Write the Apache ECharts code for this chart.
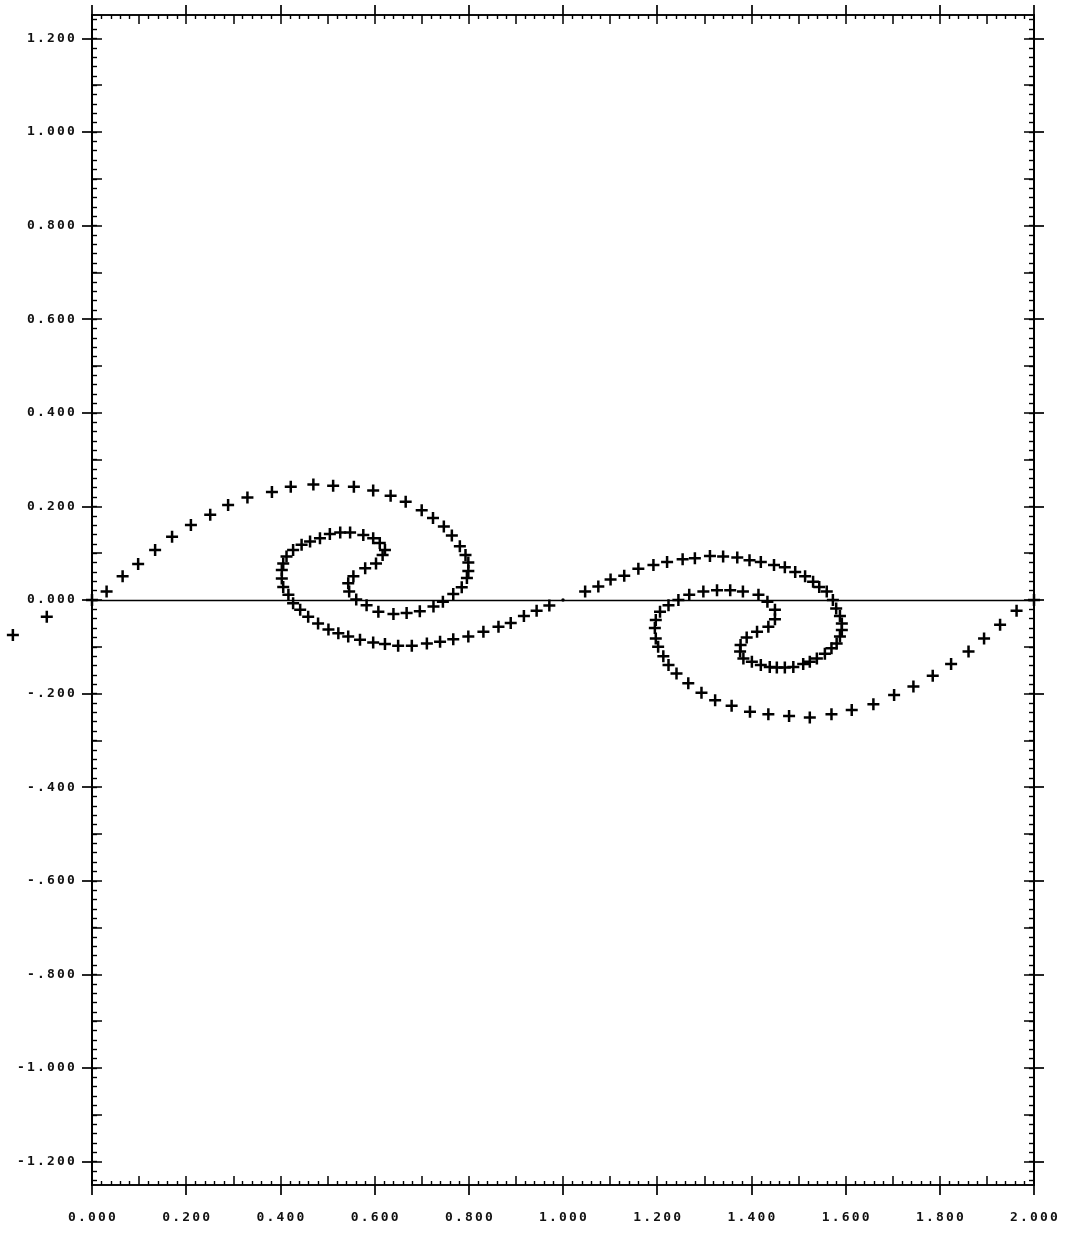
<!DOCTYPE html>
<html>
<head>
<meta charset="utf-8">
<script src="https://cdn.jsdelivr.net/npm/echarts@6/dist/echarts.min.js"></script>
<style>
  html, body { margin: 0; padding: 0; background: #ffffff; }
  #chart { width: 1067px; height: 1235px; }
</style>
</head>
<body>
<div id="chart"></div>
<script>
// Left roll-up, outer arm: from the origin over the crest, down the right wall and into the hook
const leftOuterArm = [
  [0.000, 0.000], [0.031, 0.018], [0.065, 0.051], [0.098, 0.077], [0.134, 0.107],
  [0.170, 0.135], [0.210, 0.160], [0.251, 0.182], [0.289, 0.203], [0.330, 0.219],
  [0.382, 0.231], [0.422, 0.242], [0.470, 0.247], [0.512, 0.244], [0.556, 0.242],
  [0.597, 0.234], [0.634, 0.223], [0.666, 0.210], [0.700, 0.192], [0.724, 0.175],
  [0.747, 0.157], [0.764, 0.138], [0.781, 0.115], [0.793, 0.096], [0.799, 0.080],
  [0.799, 0.062], [0.796, 0.047], [0.785, 0.027], [0.767, 0.013], [0.745, -0.004],
  [0.725, -0.014], [0.696, -0.024], [0.668, -0.028], [0.640, -0.030], [0.608, -0.025],
  [0.583, -0.011], [0.561, 0.001], [0.546, 0.018], [0.544, 0.036], [0.555, 0.051],
  [0.580, 0.068], [0.603, 0.078], [0.617, 0.096], [0.622, 0.107]
];

// Left roll-up, inner turn: across the top, down the left wall, then the lower arm to the centre
const leftInnerArm = [
  [0.611, 0.122], [0.597, 0.132], [0.576, 0.139], [0.548, 0.144], [0.527, 0.144],
  [0.505, 0.141], [0.484, 0.132], [0.463, 0.125], [0.445, 0.118], [0.427, 0.107],
  [0.413, 0.093], [0.406, 0.078], [0.403, 0.064], [0.403, 0.046], [0.406, 0.028],
  [0.417, 0.011], [0.427, -0.007], [0.442, -0.021], [0.459, -0.036], [0.480, -0.050],
  [0.502, -0.063], [0.523, -0.071], [0.544, -0.078], [0.569, -0.085], [0.597, -0.091],
  [0.622, -0.094], [0.650, -0.098], [0.679, -0.098], [0.711, -0.093], [0.739, -0.089],
  [0.767, -0.084], [0.799, -0.078], [0.831, -0.068], [0.863, -0.057], [0.889, -0.049],
  [0.917, -0.034], [0.944, -0.023], [0.971, -0.012]
];

// Right roll-up, upper arm: from the centre over the top, down the right wall and into the hook
const rightUpperArm = [
  [1.047, 0.018], [1.075, 0.029], [1.101, 0.044], [1.130, 0.052], [1.160, 0.067],
  [1.192, 0.075], [1.221, 0.081], [1.254, 0.087], [1.280, 0.089], [1.312, 0.094],
  [1.340, 0.093], [1.370, 0.091], [1.396, 0.085], [1.420, 0.081], [1.448, 0.075],
  [1.471, 0.070], [1.493, 0.060], [1.514, 0.051], [1.531, 0.039], [1.544, 0.028],
  [1.560, 0.018], [1.573, 0.000], [1.580, -0.018], [1.588, -0.034], [1.592, -0.050],
  [1.592, -0.064], [1.588, -0.078], [1.581, -0.093], [1.570, -0.103], [1.556, -0.115],
  [1.539, -0.125], [1.524, -0.132], [1.510, -0.137], [1.489, -0.143], [1.471, -0.144],
  [1.454, -0.144], [1.439, -0.143], [1.420, -0.139], [1.401, -0.132], [1.383, -0.125],
  [1.376, -0.110], [1.377, -0.096], [1.390, -0.080], [1.412, -0.068], [1.436, -0.057],
  [1.450, -0.041], [1.450, -0.021], [1.434, -0.004]
];

// Right roll-up, inner turn and the lower arm out to x = 2
const rightLowerArm = [
  [1.415, 0.011], [1.382, 0.018], [1.355, 0.021], [1.327, 0.021], [1.298, 0.018],
  [1.268, 0.011], [1.245, 0.000], [1.224, -0.011], [1.206, -0.025], [1.197, -0.043],
  [1.195, -0.060], [1.197, -0.082], [1.202, -0.100], [1.213, -0.120], [1.224, -0.139],
  [1.241, -0.157], [1.266, -0.178], [1.294, -0.198], [1.323, -0.214], [1.358, -0.226],
  [1.397, -0.239], [1.436, -0.244], [1.480, -0.248], [1.524, -0.251], [1.570, -0.244],
  [1.613, -0.235], [1.659, -0.223], [1.703, -0.203], [1.744, -0.185], [1.785, -0.162],
  [1.824, -0.137], [1.861, -0.110], [1.894, -0.082], [1.928, -0.053], [1.963, -0.023],
  [2.000, 0.000]
];

// Two points lying left of x = 0, drawn outside the frame
const outsidePoints = [[-0.168, -0.075], [-0.096, -0.036]];

// Centre of the sheet, drawn as a small dot
const centrePoint = [[1.000, 0.000]];

// Axis ranges, tick values and tick labels
const xRange = [0, 2];
const yRange = [-1.25, 1.25];
const xTickLabels = ['0.000', '0.200', '0.400', '0.600', '0.800', '1.000',
                     '1.200', '1.400', '1.600', '1.800', '2.000'];
const yTickValues = [-1.2, -1.0, -0.8, -0.6, -0.4, -0.2, 0, 0.2, 0.4, 0.6, 0.8, 1.0, 1.2];
const yTickLabels = ['-1.200', '-1.000', '-.800', '-.600', '-.400', '-.200', '0.000',
                     '0.200', '0.400', '0.600', '0.800', '1.000', '1.200'];

// Inward tick positions on the vertical axes: every 0.1 and every 0.02
function ticksEvery(step, lo, hi) {
  const out = [];
  const n0 = Math.ceil(lo / step - 1e-9), n1 = Math.floor(hi / step + 1e-9);
  for (let n = n0; n <= n1; n++) out.push(+(n * step).toFixed(4));
  return out;
}
const yMediumTicks = ticksEvery(0.1, -1.2, 1.2);
const yMinorTicks = ticksEvery(0.02, -1.24, 1.24);

// Plotter-style labels: every character sits in its own fixed-width cell
const labelFont = { fontFamily: 'DejaVu Sans Mono', fontSize: 13, fontWeight: 'bold', color: '#111' };
function cells(s) {
  return s.split('').map(ch => '{c|' + ch + '}').join('');
}
const cellRich = { c: Object.assign({ width: 10, align: 'center' }, labelFont) };

const ink = '#000';
const lineW = 1.7;
const frameLine = { show: true, onZero: false, lineStyle: { color: ink, width: lineW } };

function xAxisPair(position, withLabels) {
  return [
    {
      type: 'value', position, min: xRange[0], max: xRange[1], interval: 0.2,
      axisLine: frameLine, splitLine: { show: false },
      axisTick: { show: true, inside: false, length: 10, lineStyle: { color: ink, width: lineW } },
      axisLabel: withLabels ? {
        show: true, margin: 26,
        formatter: v => cells(xTickLabels[Math.round(v / 0.2)] || ''),
        rich: cellRich
      } : { show: false }
    },
    {
      type: 'value', position, min: xRange[0], max: xRange[1], interval: 0.1,
      axisLine: frameLine, splitLine: { show: false },
      axisTick: { show: true, inside: true, length: 9, lineStyle: { color: ink, width: 1.5 } },
      minorTick: { show: true, splitNumber: 5, length: 4, lineStyle: { color: ink, width: 1.4 } },
      axisLabel: { show: false }
    }
  ];
}

function yAxisSet(position, withLabels) {
  const base = {
    type: 'value', position, min: yRange[0], max: yRange[1],
    axisLine: frameLine, splitLine: { show: false }
  };
  return [
    Object.assign({}, base, {
      axisTick: { show: true, inside: false, length: 10, customValues: yTickValues,
                  lineStyle: { color: ink, width: lineW } },
      axisLabel: withLabels ? {
        show: true, margin: 16, customValues: yTickValues,
        formatter: v => cells(yTickLabels[Math.round((v + 1.2) / 0.2)] || ''),
        rich: cellRich
      } : { show: false }
    }),
    Object.assign({}, base, {
      axisTick: { show: true, inside: true, length: 10, customValues: yMediumTicks,
                  lineStyle: { color: ink, width: 1.5 } },
      axisLabel: { show: false }
    }),
    Object.assign({}, base, {
      axisTick: { show: true, inside: true, length: 5, customValues: yMinorTicks,
                  lineStyle: { color: ink, width: 1.4 } },
      axisLabel: { show: false }
    })
  ];
}

// Plus-shaped marker with heavy strokes
const plusMark = 'path://M4.75,0H7.25V4.75H12V7.25H7.25V12H4.75V7.25H0V4.75H4.75Z';

const chart = echarts.init(document.getElementById('chart'), null, { renderer: 'canvas' });
chart.setOption({
  animation: false,
  backgroundColor: '#ffffff',
  grid: { left: 92, right: 33, top: 15, bottom: 50, containLabel: false },
  xAxis: [].concat(xAxisPair('bottom', true), xAxisPair('top', false)),
  yAxis: [].concat(yAxisSet('left', true), yAxisSet('right', false)),
  series: [
    {
      type: 'scatter', xAxisIndex: 0, yAxisIndex: 0, clip: false, silent: true,
      symbol: plusMark, symbolSize: [12, 12],
      itemStyle: { color: ink, opacity: 1 },
      data: [].concat(leftOuterArm, leftInnerArm, rightUpperArm, rightLowerArm, outsidePoints),
      markLine: {
        silent: true, symbol: ['none', 'none'],
        label: { show: false },
        lineStyle: { color: ink, width: 1.4, type: 'solid', opacity: 1 },
        data: [{ yAxis: 0 }]
      }
    },
    {
      type: 'scatter', xAxisIndex: 0, yAxisIndex: 0, silent: true,
      symbol: 'circle', symbolSize: 3.5,
      itemStyle: { color: ink, opacity: 1 },
      data: centrePoint
    }
  ]
});
</script>
</body>
</html>
